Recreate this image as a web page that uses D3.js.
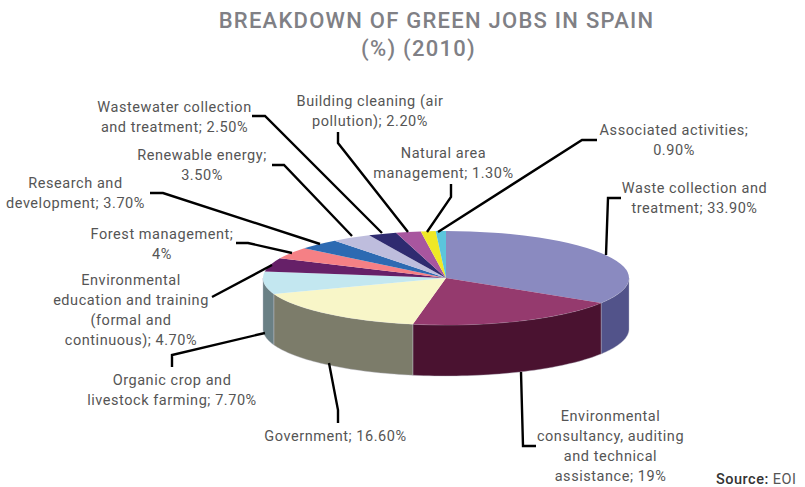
<!DOCTYPE html>
<html>
<head>
<meta charset="utf-8">
<script src="https://cdn.jsdelivr.net/npm/d3@7"></script>
<style>
  html, body { margin: 0; padding: 0; background: #fff; }
  text { font-family: Roboto, sans-serif; }
</style>
</head>
<body>
<div id="chart"></div>
<script>
// Chart data
const categories = [
  "Waste collection and treatment", "Environmental consultancy, auditing and technical assistance",
  "Government", "Organic crop and livestock farming",
  "Environmental education and training (formal and continuous)", "Forest management",
  "Research and development", "Renewable energy", "Wastewater collection and treatment",
  "Building cleaning (air pollution)", "Natural area management", "Associated activities"
];
const shares = [33.9, 19, 16.6, 7.7, 4.7, 4, 3.7, 3.5, 2.5, 2.2, 1.3, 0.9];
const shareLabels = ["33.90%", "19%", "16.60%", "7.70%", "4.70%", "4%", "3.70%", "3.50%", "2.50%", "2.20%", "1.30%", "0.90%"];
const topColors = ["#8a8ac0", "#953a6e", "#f8f6c8", "#c3e7f0", "#662068", "#f58085", "#2d6ab2", "#bebddd", "#2f2b70", "#a8569f", "#efe826", "#5bc5dc"];
const sideColors = ["#52538a", "#4a1230", "#7c7c6a", "#6a8085", "#662068", "#f58085", "#2d6ab2", "#bebddd", "#2f2b70", "#a8569f", "#efe826", "#5bc5dc"];

// Wrapped label text, same order as categories
const labelLines = [
  ["Waste collection and", "treatment; 33.90%"],
  ["Environmental", "consultancy, auditing", "and technical", "assistance; 19%"],
  ["Government; 16.60%"],
  ["Organic crop and", "livestock farming; 7.70%"],
  ["Environmental", "education and training", "(formal and", "continuous); 4.70%"],
  ["Forest management;", "4%"],
  ["Research and", "development; 3.70%"],
  ["Renewable energy;", "3.50%"],
  ["Wastewater collection", "and treatment; 2.50%"],
  ["Building cleaning (air", "pollution); 2.20%"],
  ["Natural area", "management; 1.30%"],
  ["Associated activities;", "0.90%"]
];

// Label placement and hand drawn leaders
const labelAnchors = [[694.5, 193], [610.5, 421], [335.5, 441], [172, 385], [131, 285], [162, 239], [75.5, 188], [202, 160], [174.5, 112], [370, 106], [443.5, 158], [674, 135]];
const leaders = [
  [[621, 198], [608, 198], [606, 255]],
  [[536, 446], [523, 446], [521, 372]],
  [[338, 423], [338, 410], [329, 363]],
  [[172, 367], [172, 355], [265, 333]],
  [[212, 297], [272, 265]],
  [[236, 243], [248, 243], [292, 253]],
  [[150, 193], [163, 193], [320, 244]],
  [[272, 165], [284, 165], [352, 236]],
  [[252, 116], [265, 116], [382, 233]],
  [[338, 132], [338, 143], [408, 232]],
  [[451, 184], [451, 197], [427, 232]],
  [[597, 140], [582, 140], [438, 232]]
];

const chartWidth = 805;
const chartHeight = 487;
const center = { x: 446, y: 278 };
const rx = 183;
const ry = 47;
const depth = 51;

const svg = d3.select("#chart")
  .append("svg")
    .attr("width", chartWidth)
    .attr("height", chartHeight);

// Title, the two lines are not centred on each other in the original
svg.append("text")
  .attr("x", 436.5).attr("y", 27.5)
  .attr("text-anchor", "middle")
  .attr("font-size", 22)
  .attr("font-weight", 500)
  .attr("letter-spacing", 1.25)
  .attr("fill", "#808085")
  .text("BREAKDOWN OF GREEN JOBS IN SPAIN");

svg.append("text")
  .attr("x", 418.5).attr("y", 55.5)
  .attr("text-anchor", "middle")
  .attr("font-size", 22)
  .attr("font-weight", 500)
  .attr("letter-spacing", 1.25)
  .attr("fill", "#808085")
  .text("(%) (2010)");

// Pie layout, starting at 12 o'clock and going clockwise
const pie = d3.pie().sort(null).value(d => d)(shares);
const arc = d3.arc().innerRadius(0).outerRadius(rx);

// Point on the rim of the tilted pie
const rim = (angle, dy) => [Math.sin(angle) * rx, -Math.cos(angle) * ry + dy];

// Side walls: only the front half of the rim can be seen
const walls = pie.filter(d => d.startAngle < Math.PI * 1.5 && d.endAngle > Math.PI / 2).map(d => {
  const a0 = Math.max(d.startAngle, Math.PI / 2);
  const a1 = Math.min(d.endAngle, Math.PI * 1.5);
  const angles = d3.range(0, 41).map(i => a0 + (a1 - a0) * i / 40);
  return { index: d.index, points: angles.map(a => rim(a, 0)).concat(angles.reverse().map(a => rim(a, depth))) };
});

const pieGroup = svg.append("g")
  .attr("transform", `translate(${center.x},${center.y})`);

pieGroup.selectAll("path.wall")
  .data(walls)
  .enter()
  .append("path")
    .attr("class", "wall")
    .attr("d", d => d3.line()(d.points) + "Z")
    .attr("fill", d => sideColors[d.index])
    .attr("stroke", "#b9b9c6")
    .attr("stroke-width", 0.4);

pieGroup.append("g")
  .attr("transform", `scale(1,${ry / rx})`)
  .selectAll("path")
  .data(pie)
  .enter()
  .append("path")
    .attr("d", arc)
    .attr("fill", (d, i) => topColors[i]);

// Leader lines
svg.append("g").selectAll("path")
  .data(leaders)
  .enter()
  .append("path")
    .attr("d", d3.line())
    .attr("fill", "none")
    .attr("stroke", "#000")
    .attr("stroke-width", 2.4);

// Labels
const labels = svg.append("g").selectAll("text")
  .data(labelLines)
  .enter()
  .append("text")
    .attr("x", (d, i) => labelAnchors[i][0])
    .attr("y", (d, i) => labelAnchors[i][1])
    .attr("text-anchor", "middle")
    .attr("font-size", 14.5)
    .attr("letter-spacing", 0.55)
    .attr("fill", "#555");

labels.selectAll("tspan")
  .data((d, i) => d.map(line => ({ line, x: labelAnchors[i][0] })))
  .enter()
  .append("tspan")
    .attr("x", d => d.x)
    .attr("dy", (d, i) => i === 0 ? 0 : 20)
    .text(d => d.line);

// Source note
const source = svg.append("text")
  .attr("x", 716)
  .attr("y", 484)
  .attr("font-size", 14.5)
  .attr("letter-spacing", 0.5)
  .attr("fill", "#333");
source.append("tspan").attr("font-weight", 500).text("Source: ");
source.append("tspan").attr("fill", "#555").text("EOI");
</script>
</body>
</html>
